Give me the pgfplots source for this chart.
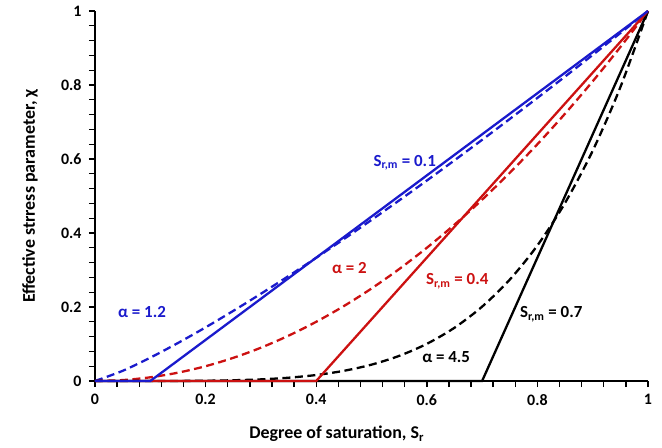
\documentclass[border=0pt]{standalone}
\usepackage{pgfplots}
\pgfplotsset{compat=1.18}
\usepackage{fontspec}
\setmainfont{Carlito}
\definecolor{cblue}{HTML}{1A1ACC}
\definecolor{cred}{HTML}{CC1111}

\begin{document}
\begin{tikzpicture}
\begin{axis}[
 scale only axis, width=553bp, height=370bp,
 xmin=0, xmax=1, ymin=0, ymax=1,
 axis x line*=bottom, axis y line*=left,
 axis line style={black, line width=1.3pt},
 xtick={0,0.2,...,1}, ytick={0,0.2,...,1},
 minor tick num=4,
 tick align=outside,
 major tick style={black, line width=1.4pt},
 minor tick style={black, line width=1.4pt},
 major tick length=6bp, minor tick length=6bp,
 xticklabels={0,0.2,0.4,0.6,0.8,1}, yticklabels={0,0.2,0.4,0.6,0.8,1},
 ticklabel style={font=\fontsize{16}{18}\selectfont\bfseries},
 xticklabel style={yshift=-4bp}, yticklabel style={xshift=-4bp},
 xlabel={Degree of saturation, S\textsubscript{r}},
 ylabel={Effective strress parameter, χ},
 every axis x label/.style={at={(axis description cs:0.437,-0.143)}, anchor=center, font=\fontsize{18}{20}\selectfont\bfseries},
 every axis y label/.style={at={(axis description cs:-0.1175,0.5)}, anchor=center, rotate=90, font=\fontsize{18}{20}\selectfont\bfseries},
 clip=false,
 every axis plot/.append style={line width=2.3pt},
]
% alpha = 1.2 (dashed blue)
\addplot[cblue, dash pattern=on 8bp off 4.5bp, smooth] coordinates {
(0,0)(0.05,0.0275)(0.1,0.0631)(0.15,0.1027)(0.2,0.1450)(0.25,0.1895)(0.3,0.2358)
(0.35,0.2837)(0.4,0.3330)(0.45,0.3836)(0.5,0.4353)(0.55,0.4880)(0.6,0.5417)
(0.65,0.5964)(0.7,0.6518)(0.75,0.7081)(0.8,0.7651)(0.85,0.8228)(0.9,0.8812)
(0.95,0.9403)(1,1)};
% alpha = 2 (dashed red)
\addplot[cred, dash pattern=on 8bp off 4.5bp, smooth] coordinates {
(0,0)(0.05,0.0025)(0.1,0.01)(0.15,0.0225)(0.2,0.04)(0.25,0.0625)(0.3,0.09)
(0.35,0.1225)(0.4,0.16)(0.45,0.2025)(0.5,0.25)(0.55,0.3025)(0.6,0.36)
(0.65,0.4225)(0.7,0.49)(0.75,0.5625)(0.8,0.64)(0.85,0.7225)(0.9,0.81)
(0.95,0.9025)(1,1)};
% alpha = 4.5 (dashed black)
\addplot[black, dash pattern=on 8bp off 4.5bp, smooth] coordinates {
(0,0)(0.05,0)(0.1,0.00003)(0.15,0.0002)(0.2,0.0007)(0.25,0.0020)(0.3,0.0044)
(0.35,0.0089)(0.4,0.0162)(0.45,0.0275)(0.5,0.0442)(0.55,0.0679)(0.6,0.1004)
(0.65,0.1439)(0.7,0.2009)(0.75,0.2740)(0.8,0.3664)(0.85,0.4813)(0.9,0.6224)
(0.95,0.7939)(1,1)};
% solid lines, S_r,m
\addplot[black] coordinates {(0,0)(0.7,0)(1,1)};
\addplot[cred] coordinates {(0,0)(0.4,0)(1,1)};
\addplot[cblue] coordinates {(0,0)(0.1,0)(1,1)};

\node[cblue, font=\fontsize{17}{19}\selectfont\bfseries] at (axis cs:0.56,0.59) {S\textsubscript{r,m} = 0.1};
\node[cblue, font=\fontsize{17}{19}\selectfont\bfseries] at (axis cs:0.085,0.186) {α = 1.2};
\node[cred, font=\fontsize{17}{19}\selectfont\bfseries] at (axis cs:0.46,0.305) {α = 2};
\node[cred, font=\fontsize{17}{19}\selectfont\bfseries] at (axis cs:0.655,0.27) {S\textsubscript{r,m} = 0.4};
\node[black, font=\fontsize{17}{19}\selectfont\bfseries] at (axis cs:0.825,0.18) {S\textsubscript{r,m} = 0.7};
\node[black, font=\fontsize{17}{19}\selectfont\bfseries] at (axis cs:0.635,0.065) {α = 4.5};
\end{axis}
\pgfresetboundingbox
\path[use as bounding box] ([shift={(-95bp,-67bp)}]current axis.south west) rectangle ([shift={(14bp,11bp)}]current axis.north east);
\end{tikzpicture}
\end{document}
